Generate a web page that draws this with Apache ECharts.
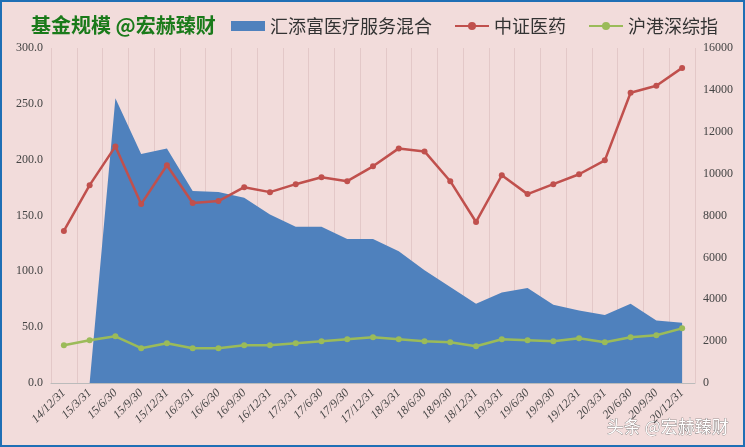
<!DOCTYPE html><html><head><meta charset="utf-8"><script src="https://cdn.jsdelivr.net/npm/echarts@6/dist/echarts.min.js"></script>
<style>body{margin:0}#c{width:741px;height:443px;border:2px solid #1f6fb5;background:#f2dcdb}</style></head><body><div id="c"></div><script>
const categories=['14/12/31','15/3/31','15/6/30','15/9/30','15/12/31','16/3/31','16/6/30','16/9/30','16/12/31','17/3/31','17/6/30','17/9/30','17/12/31','18/3/31','18/6/30','18/9/30','18/12/31','19/3/31','19/6/30','19/9/30','19/12/31','20/3/31','20/6/30','20/9/30','20/12/31'];
const fund=[null,0,255,205,210,172,171,166,151,140,140,129,129,118,101,86,71,81,85,70,65,61,71,56,54];
const csyy=[7264,9448,11300,8546,10398,8594,8689,9353,9116,9496,9828,9638,10350,11205,11062,9638,7691,9923,9021,9496,9970,10635,13863,14196,15050];
const hgs=[1804,2042,2231,1662,1899,1662,1662,1804,1804,1899,1994,2089,2184,2089,1994,1947,1757,2089,2042,1994,2137,1947,2184,2279,2611];
const ch=echarts.init(document.getElementById('c'));
const ax={fontFamily:'Liberation Serif',color:'#444',fontSize:12};
ch.setOption({
title:{text:'基金规模 @宏赫臻财',left:24,top:8,textStyle:{color:'#1a7a1a',fontSize:20,fontWeight:'bold',fontFamily:'Noto Sans CJK SC'}},
legend:{right:20,top:10,itemGap:22,textStyle:{fontSize:18,color:'#333',fontFamily:'Noto Sans CJK SC'},itemWidth:34,itemHeight:10,
data:[{name:'汇添富医疗服务混合',icon:'rect'},'中证医药','沪港深综指']},
graphic:[{type:'text',right:14,bottom:10,style:{text:'头条 @宏赫臻财',fill:'#fff',fontSize:17,fontFamily:'Noto Sans CJK SC',stroke:'#555',lineWidth:0.5}}],
grid:{left:49,right:48,top:46,bottom:62},
xAxis:{type:'category',data:categories,boundaryGap:true,axisLabel:Object.assign({rotate:45,interval:0,fontStyle:'italic',fontSize:12},ax),axisTick:{show:false},axisLine:{lineStyle:{color:'#bbb'}},splitLine:{show:true,lineStyle:{color:'#e3c8c8'}}},
yAxis:[{type:'value',min:0,max:300,interval:50,axisLabel:Object.assign({formatter:v=>v.toFixed(1)},ax),splitLine:{show:false},axisLine:{show:false}},
{type:'value',min:0,max:16000,interval:2000,axisLabel:Object.assign({formatter:v=>String(v)},ax),splitLine:{show:false},axisLine:{show:false}}],
series:[
{name:'汇添富医疗服务混合',type:'line',data:fund,symbol:'none',lineStyle:{width:0},areaStyle:{color:'#4f81bd',opacity:1},itemStyle:{color:'#4f81bd'},z:1},
{name:'中证医药',type:'line',yAxisIndex:1,data:csyy,symbol:'circle',symbolSize:6,lineStyle:{color:'#c0504d',width:2.5},itemStyle:{color:'#c0504d'}},
{name:'沪港深综指',type:'line',yAxisIndex:1,data:hgs,symbol:'circle',symbolSize:6,lineStyle:{color:'#9bbb59',width:2.5},itemStyle:{color:'#9bbb59'}}
]});
</script></body></html>
